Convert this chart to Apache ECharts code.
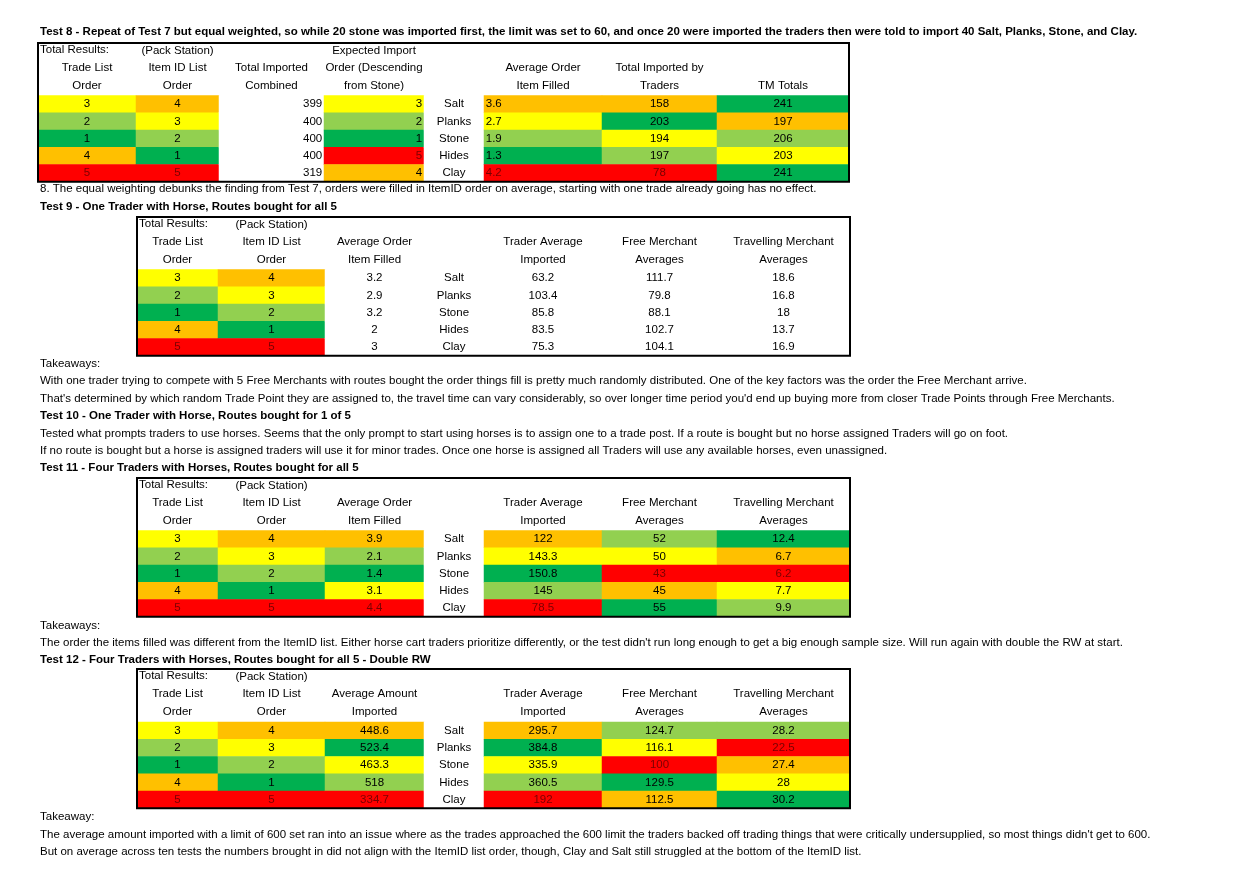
<!DOCTYPE html>
<html><head><meta charset="utf-8">
<script src="https://cdn.jsdelivr.net/npm/echarts@6/dist/echarts.min.js"></script>
<style>html,body{margin:0;padding:0;background:#fff}#c{width:1254px;height:884px}</style>
</head><body><div id="c"></div>
<script>
const items = ['Salt','Planks','Stone','Hides','Clay'];
const tradeOrder = ['3','2','1','4','5'];
const tradeOrderC = ['Y','LG','G','O','R'];
const itemIdOrder = ['4','3','2','1','5'];
const itemIdOrderC = ['O','Y','LG','G','R'];
// Test 8
const t8Total = ['399','400','400','400','319'];
const t8Expected = ['3','2','1','5','4'];
const t8ExpectedC = ['Y','LG','G','R','O'];
const t8AvgOrder = ['3.6','2.7','1.9','1.3','4.2'];
const t8AvgOrderC = ['O','Y','LG','G','R'];
const t8Traders = ['158','203','194','197','78'];
const t8TradersC = ['O','G','Y','LG','R'];
const t8TM = ['241','197','206','203','241'];
const t8TMC = ['G','O','LG','Y','G'];
// Test 9
const t9Avg = ['3.2','2.9','3.2','2','3'];
const t9Trader = ['63.2','103.4','85.8','83.5','75.3'];
const t9Free = ['111.7','79.8','88.1','102.7','104.1'];
const t9Travel = ['18.6','16.8','18','13.7','16.9'];
// Test 11
const t11Avg = ['3.9','2.1','1.4','3.1','4.4'];
const t11AvgC = ['O','LG','G','Y','R'];
const t11Trader = ['122','143.3','150.8','145','78.5'];
const t11TraderC = ['O','Y','G','LG','R'];
const t11Free = ['52','50','43','45','55'];
const t11FreeC = ['LG','Y','R','O','G'];
const t11Travel = ['12.4','6.7','6.2','7.7','9.9'];
const t11TravelC = ['G','O','R','Y','LG'];
// Test 12
const t12Avg = ['448.6','523.4','463.3','518','334.7'];
const t12AvgC = ['O','G','Y','LG','R'];
const t12Trader = ['295.7','384.8','335.9','360.5','192'];
const t12TraderC = ['O','G','Y','LG','R'];
const t12Free = ['124.7','116.1','100','129.5','112.5'];
const t12FreeC = ['LG','Y','R','G','O'];
const t12Travel = ['28.2','22.5','27.4','28','30.2'];
const t12TravelC = ['LG','R','O','Y','G'];

const PAL = {Y:'#FFFF00',O:'#FFC000',LG:'#92D050',G:'#00B050',R:'#FF0000',W:'#FFFFFF'};
const FONT = 'Liberation Sans';
const FS = 11.5;
const grids=[],xAxes=[],yAxes=[],series=[],graphic=[];
function txt(x,y,s,opt={}){graphic.push({type:'text',left:x,top:y-7,style:{text:s,font:(opt.bold?'bold ':'')+FS+'px "'+FONT+'"',fill:'#000',textAlign:opt.align||'left'},z:10});}
function ctxt(x0,x1,y,s){graphic.push({type:'text',x:(x0+x1)/2,y:y,style:{text:s,font:FS+'px "'+FONT+'"',fill:'#000',align:'center',verticalAlign:'middle'},z:10});}
function table(bounds, top, rowTop, headers, cols, leftHeader){
  const rowH=17.25, bottom=rowTop+rowH*5;
  cols.forEach((c,i)=>{
    const k=grids.length;
    grids.push({left:bounds[i],top:rowTop,width:bounds[i+1]-bounds[i],height:rowH*5});
    xAxes.push({type:'category',gridIndex:k,data:['c'],show:false});
    yAxes.push({type:'category',gridIndex:k,data:items,inverse:true,show:false});
    const pos=c.align==='right'?'insideRight':c.align==='left'?'insideLeft':'inside';
    series.push({type:'heatmap',xAxisIndex:k,yAxisIndex:k,
      data:c.vals.map((v,r)=>{const col=c.c?c.c[r]:'W';return {name:v,value:[0,r,parseFloat(v)||0],
        itemStyle:{color:PAL[col]},label:{color:col==='R'?'#7a0000':'#000'}};}),
      label:{show:true,position:pos,distance:2,formatter:p=>p.name,fontFamily:FONT,fontSize:FS},
      emphasis:{disabled:true}});
  });
  headers.forEach((h,i)=>{h.forEach((s,j)=>{if(s) ctxt(bounds[i],bounds[i+1],top+8+j*17.3,s);});});
  graphic.push({type:'text',left:bounds[0]+2,top:top+1,style:{text:leftHeader[0],font:FS+'px "'+FONT+'"',fill:'#000'},z:10});
  graphic.push({type:'rect',shape:{x:bounds[0],y:top,width:bounds[bounds.length-1]-bounds[0],height:bottom-top},style:{fill:null,stroke:'#000',lineWidth:2},z:20});
}
const b8=[38,136,219,324,424,484,602,717,849];
table(b8,43,95.5,[
 ['','Trade List','Order'],['(Pack Station)','Item ID List','Order'],['','Total Imported','Combined'],
 ['Expected Import','Order (Descending','from Stone)'],['','',''],['','Average Order','Item Filled'],
 ['','Total Imported by','Traders'],['','','TM Totals']],
 [{vals:tradeOrder,c:tradeOrderC},{vals:itemIdOrder,c:itemIdOrderC},{vals:t8Total,align:'right'},
  {vals:t8Expected,c:t8ExpectedC,align:'right'},{vals:items},{vals:t8AvgOrder,c:t8AvgOrderC,align:'left'},
  {vals:t8Traders,c:t8TradersC},{vals:t8TM,c:t8TMC}],['Total Results:']);
const bT=[137,218,325,424,484,602,717,850];
const hdrB=(c3)=>[['','Trade List','Order'],['(Pack Station)','Item ID List','Order'],['',c3[0],c3[1]],['','',''],
 ['','Trader Average','Imported'],['','Free Merchant','Averages'],['','Travelling Merchant','Averages']];
const hdr9=hdrB(['Average Order','Item Filled']);
hdr9[4]=['','Trader Average','Imported'];
table(bT,217,269.5,hdr9,
 [{vals:tradeOrder,c:tradeOrderC},{vals:itemIdOrder,c:itemIdOrderC},{vals:t9Avg},{vals:items},
  {vals:t9Trader},{vals:t9Free},{vals:t9Travel}],['Total Results:']);
table(bT,478,530.5,hdrB(['Average Order','Item Filled']),
 [{vals:tradeOrder,c:tradeOrderC},{vals:itemIdOrder,c:itemIdOrderC},{vals:t11Avg,c:t11AvgC},{vals:items},
  {vals:t11Trader,c:t11TraderC},{vals:t11Free,c:t11FreeC},{vals:t11Travel,c:t11TravelC}],['Total Results:']);
table(bT,669,722,hdrB(['Average Amount','Imported']),
 [{vals:tradeOrder,c:tradeOrderC},{vals:itemIdOrder,c:itemIdOrderC},{vals:t12Avg,c:t12AvgC},{vals:items},
  {vals:t12Trader,c:t12TraderC},{vals:t12Free,c:t12FreeC},{vals:t12Travel,c:t12TravelC}],['Total Results:']);

const X=40;
txt(X,33,'Test 8 - Repeat of Test 7 but equal weighted, so while 20 stone was imported first, the limit was set to 60, and once 20 were imported the traders then were told to import 40 Salt, Planks, Stone, and Clay.',{bold:true});
txt(X,190,'8. The equal weighting debunks the finding from Test 7, orders were filled in ItemID order on average, starting with one trade already going has no effect.');
txt(X,208,'Test 9 - One Trader with Horse, Routes bought for all 5',{bold:true});
txt(X,365,'Takeaways:');
txt(X,382,'With one trader trying to compete with 5 Free Merchants with routes bought the order things fill is pretty much randomly distributed. One of the key factors was the order the Free Merchant arrive.');
txt(X,400,"That's determined by which random Trade Point they are assigned to, the travel time can vary considerably, so over longer time period you'd end up buying more from closer Trade Points through Free Merchants.");
txt(X,417,'Test 10 - One Trader with Horse, Routes bought for 1 of 5',{bold:true});
txt(X,435,'Tested what prompts traders to use horses. Seems that the only prompt to start using horses is to assign one to a trade post. If a route is bought but no horse assigned Traders will go on foot.');
txt(X,452,'If no route is bought but a horse is assigned traders will use it for minor trades. Once one horse is assigned all Traders will use any available horses, even unassigned.');
txt(X,469,'Test 11 - Four Traders with Horses, Routes bought for all 5',{bold:true});
txt(X,627,'Takeaways:');
txt(X,644,"The order the items filled was different from the ItemID list. Either horse cart traders prioritize differently, or the test didn't run long enough to get a big enough sample size. Will run again with double the RW at start.");
txt(X,661,'Test 12 - Four Traders with Horses, Routes bought for all 5 - Double RW',{bold:true});
txt(X,818,'Takeaway:');
txt(X,836,"The average amount imported with a limit of 600 set ran into an issue where as the trades approached the 600 limit the traders backed off trading things that were critically undersupplied, so most things didn't get to 600.");
txt(X,853,'But on average across ten tests the numbers brought in did not align with the ItemID list order, though, Clay and Salt still struggled at the bottom of the ItemID list.');

const chart=echarts.init(document.getElementById('c'));
chart.setOption({animation:false,backgroundColor:'#fff',grid:grids,xAxis:xAxes,yAxis:yAxes,series:series,graphic:graphic});
</script></body></html>
